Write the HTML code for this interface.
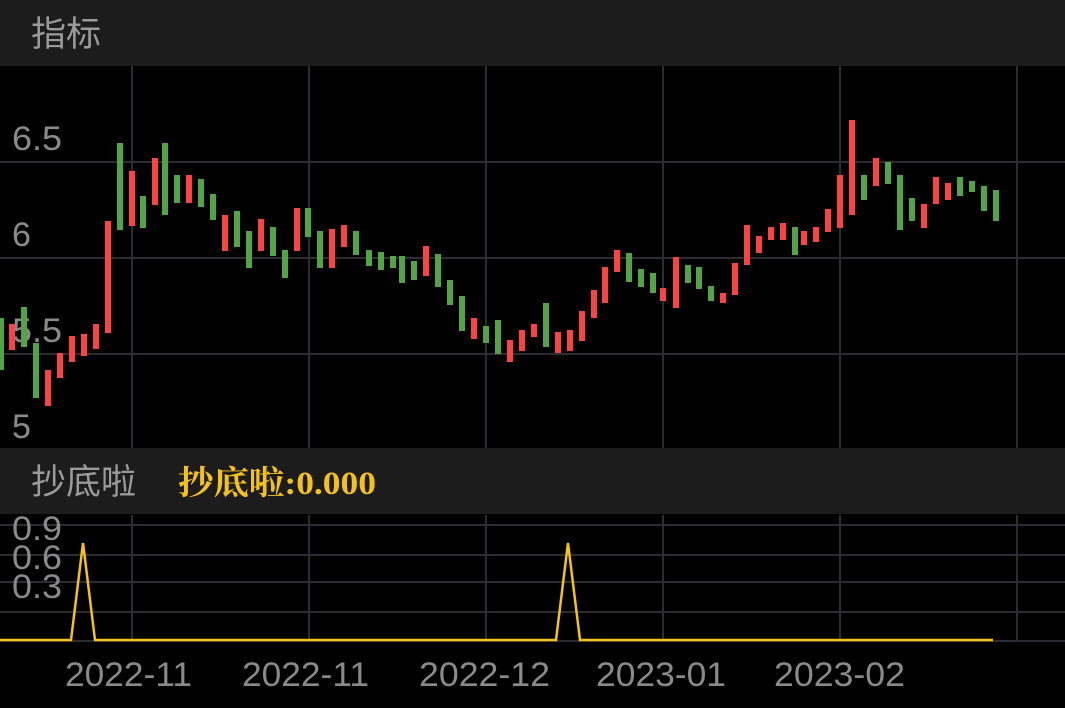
<!DOCTYPE html>
<html><head><meta charset="utf-8"><style>
html,body{margin:0;padding:0;background:#000;width:1065px;height:708px;overflow:hidden}
svg{display:block}
text{font-family:"Liberation Sans","Noto Sans CJK SC",sans-serif}
text.serif{font-family:"Liberation Serif","Noto Serif CJK SC",serif}
</style></head><body>
<svg width="1065" height="708" xmlns="http://www.w3.org/2000/svg">
<rect x="0" y="0" width="1065" height="66" fill="#1c1c1c"/>
<text x="31" y="46" font-size="35" fill="#9a9a9a">指标</text>
<g stroke="#2c2c33" stroke-width="2">
<line x1="0" y1="162" x2="1065" y2="162"/><line x1="0" y1="258" x2="1065" y2="258"/><line x1="0" y1="354" x2="1065" y2="354"/>
<line x1="132" y1="66" x2="132" y2="448"/><line x1="309" y1="66" x2="309" y2="448"/><line x1="486" y1="66" x2="486" y2="448"/><line x1="663" y1="66" x2="663" y2="448"/><line x1="840" y1="66" x2="840" y2="448"/><line x1="1017" y1="66" x2="1017" y2="448"/>
<line x1="0" y1="525" x2="1065" y2="525"/><line x1="0" y1="555" x2="1065" y2="555"/><line x1="0" y1="582" x2="1065" y2="582"/><line x1="0" y1="612" x2="1065" y2="612"/><line x1="0" y1="641" x2="1065" y2="641"/>
<line x1="132" y1="515" x2="132" y2="641"/><line x1="309" y1="515" x2="309" y2="641"/><line x1="486" y1="515" x2="486" y2="641"/><line x1="663" y1="515" x2="663" y2="641"/><line x1="840" y1="515" x2="840" y2="641"/><line x1="1017" y1="515" x2="1017" y2="641"/>
</g>
<g font-size="34" fill="#8a8a8a">
<text x="12" y="150" textLength="50" lengthAdjust="spacingAndGlyphs">6.5</text><text x="12" y="246">6</text><text x="12" y="342" textLength="50" lengthAdjust="spacingAndGlyphs">5.5</text><text x="12" y="438">5</text>
</g>
<g fill="#52a447">
<rect x="-2" y="318" width="6" height="52"/><rect x="21" y="307" width="6" height="40"/><rect x="33" y="343" width="6" height="55"/>
<rect x="117" y="143" width="6" height="87"/><rect x="140" y="196" width="6" height="32"/><rect x="162" y="143" width="6" height="72"/><rect x="174" y="175" width="6" height="28"/><rect x="198" y="179" width="6" height="28"/><rect x="210" y="194" width="6" height="26"/><rect x="234" y="211" width="6" height="36"/><rect x="246" y="231" width="6" height="37"/><rect x="270" y="227" width="6" height="29"/><rect x="282" y="250" width="6" height="28"/><rect x="305" y="208" width="6" height="29"/><rect x="317" y="231" width="6" height="37"/><rect x="353" y="231" width="6" height="24"/>
<rect x="366" y="250" width="6" height="16"/><rect x="378" y="252" width="6" height="18"/><rect x="390" y="256" width="6" height="12"/><rect x="399" y="256" width="6" height="27"/><rect x="411" y="261" width="6" height="19"/><rect x="435" y="254" width="6" height="33"/><rect x="447" y="280" width="6" height="25"/><rect x="459" y="296" width="6" height="35"/><rect x="483" y="326" width="6" height="17"/><rect x="495" y="320" width="6" height="34"/><rect x="543" y="303" width="6" height="44"/>
<rect x="626" y="253" width="6" height="29"/><rect x="638" y="269" width="6" height="18"/><rect x="650" y="273" width="6" height="20"/><rect x="685" y="265" width="6" height="18"/><rect x="696" y="267" width="6" height="22"/><rect x="708" y="286" width="6" height="15"/>
<rect x="792" y="227" width="6" height="28"/><rect x="861" y="175" width="6" height="25"/><rect x="885" y="162" width="6" height="22"/><rect x="897" y="175" width="6" height="55"/><rect x="909" y="198" width="6" height="23"/><rect x="957" y="177" width="6" height="19"/><rect x="969" y="181" width="6" height="11"/><rect x="981" y="186" width="6" height="25"/><rect x="993" y="190" width="6" height="31"/>
</g>
<g fill="#fa4343">
<rect x="9" y="324" width="6" height="26"/><rect x="45" y="370" width="6" height="36"/><rect x="57" y="353" width="6" height="25"/><rect x="69" y="336" width="6" height="26"/><rect x="81" y="334" width="6" height="22"/><rect x="93" y="324" width="6" height="25"/><rect x="105" y="221" width="6" height="112"/><rect x="129" y="171" width="6" height="55"/><rect x="152" y="158" width="6" height="47"/><rect x="186" y="175" width="6" height="28"/><rect x="222" y="215" width="6" height="36"/><rect x="258" y="219" width="6" height="32"/><rect x="294" y="208" width="6" height="43"/><rect x="329" y="229" width="6" height="39"/><rect x="341" y="225" width="6" height="22"/>
<rect x="423" y="246" width="6" height="30"/><rect x="471" y="318" width="6" height="21"/><rect x="507" y="340" width="6" height="22"/><rect x="519" y="330" width="6" height="21"/><rect x="531" y="324" width="6" height="13"/><rect x="555" y="332" width="6" height="21"/><rect x="567" y="330" width="6" height="21"/><rect x="579" y="311" width="6" height="30"/><rect x="591" y="290" width="6" height="28"/><rect x="602" y="267" width="6" height="36"/><rect x="614" y="250" width="6" height="22"/><rect x="660" y="288" width="6" height="13"/><rect x="673" y="257" width="6" height="51"/>
<rect x="720" y="293" width="6" height="10"/><rect x="732" y="263" width="6" height="32"/><rect x="744" y="225" width="6" height="40"/><rect x="756" y="236" width="6" height="17"/><rect x="768" y="227" width="6" height="13"/><rect x="780" y="223" width="6" height="17"/><rect x="801" y="231" width="6" height="14"/><rect x="813" y="227" width="6" height="15"/><rect x="825" y="209" width="6" height="23"/><rect x="837" y="175" width="6" height="53"/><rect x="849" y="120" width="6" height="95"/><rect x="873" y="158" width="6" height="28"/><rect x="921" y="204" width="6" height="24"/><rect x="933" y="177" width="6" height="27"/><rect x="945" y="183" width="6" height="17"/>
</g>
<rect x="0" y="448" width="1065" height="66" fill="#1c1c1c"/>
<text x="31" y="494" font-size="35" fill="#9a9a9a">抄底啦</text>
<text class="serif" x="178" y="494" font-size="33" font-weight="bold" fill="#f5c21b" textLength="198" lengthAdjust="spacingAndGlyphs">抄底啦:0.000</text>
<g font-size="34" fill="#8a8a8a">
<text x="12" y="540" textLength="50" lengthAdjust="spacingAndGlyphs">0.9</text><text x="12" y="569" textLength="50" lengthAdjust="spacingAndGlyphs">0.6</text><text x="12" y="598" textLength="50" lengthAdjust="spacingAndGlyphs">0.3</text>
</g>
<polyline points="0,640 71,640 83,543 95,640 556,640 568,543 580,640 993,640" fill="none" stroke="#f5c21b" stroke-width="2.5"/>
<g font-size="34" fill="#8a8a8a">
<text x="65" y="686" textLength="127" lengthAdjust="spacingAndGlyphs">2022-11</text><text x="242" y="686" textLength="127" lengthAdjust="spacingAndGlyphs">2022-11</text><text x="419" y="686" textLength="131" lengthAdjust="spacingAndGlyphs">2022-12</text><text x="596" y="686" textLength="130" lengthAdjust="spacingAndGlyphs">2023-01</text><text x="774" y="686" textLength="131" lengthAdjust="spacingAndGlyphs">2023-02</text>
</g>
</svg>
</body></html>
